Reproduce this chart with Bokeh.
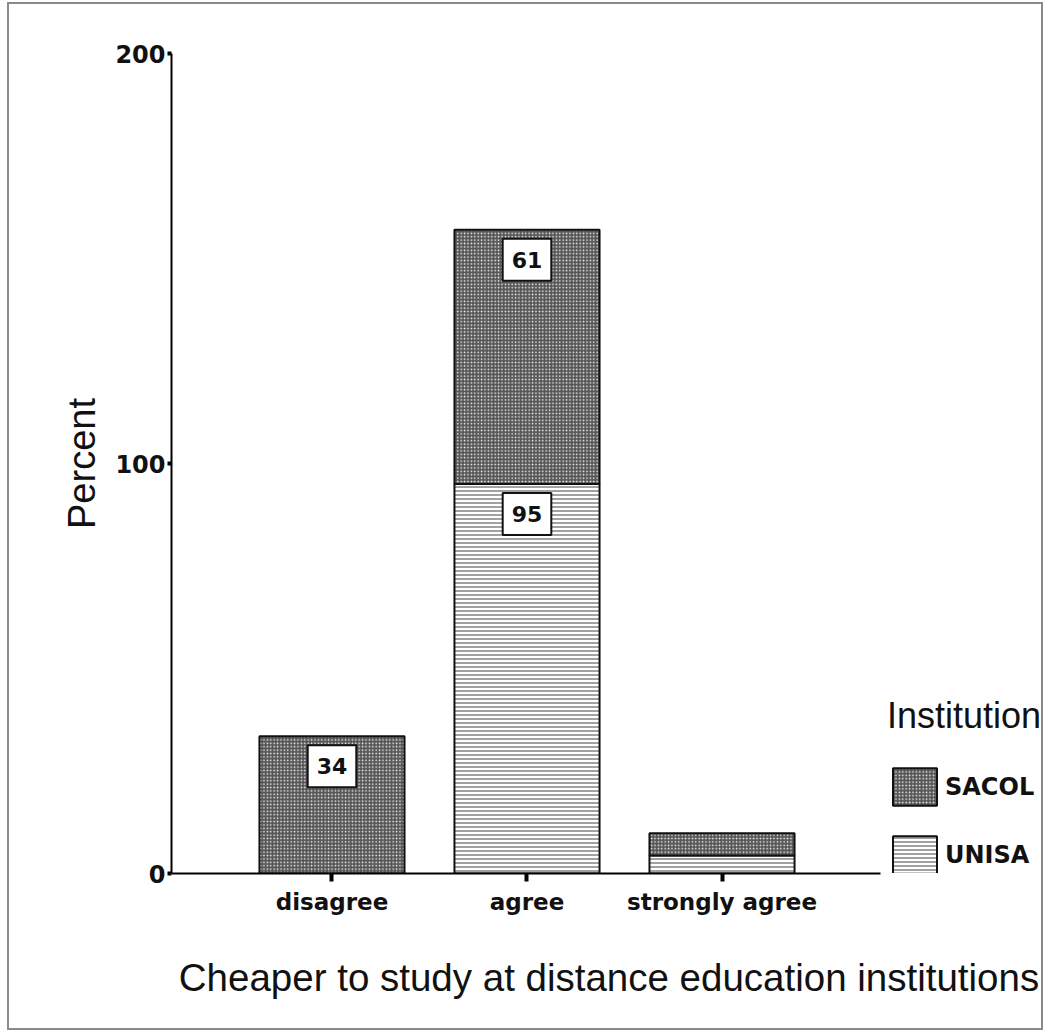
from bokeh.plotting import figure
from bokeh.models import ColumnDataSource, Range1d, FixedTicker, Legend, LegendItem
from bokeh.core.properties import value
from bokeh.embed import file_html
from bokeh.resources import INLINE

# ---- data ----
categories = ["disagree", "agree", "strongly agree"]
unisa = [0, 95, 4.4]
sacol = [33.5, 62, 5.4]
sacol_labels = ["34", "61", ""]
unisa_labels = ["", "95", ""]

xpos = [i + 1 for i in range(len(categories))]
sacol_top = [u + s for u, s in zip(unisa, sacol)]

src = ColumnDataSource(dict(x=xpos, unisa=unisa, sacol=sacol,
                            bottom=[0] * len(xpos), mid=unisa, top=sacol_top))

p = figure(width=1046, height=1031, output_backend="svg", toolbar_location=None,
           x_range=Range1d(0.177, 4.664), y_range=Range1d(0, 200),
           min_border_left=171, min_border_right=0, min_border_top=53,
           min_border_bottom=158)
p.outline_line_color = None
p.xgrid.visible = False
p.ygrid.visible = False
p.background_fill_alpha = 0
p.border_fill_alpha = 0
g = "linear-gradient(#8a8a8a,#8a8a8a)"
p.styles = {"background": (f"{g} 7px 2px / 2px 1027px no-repeat, "
                           f"{g} 7px 2px / 1036px 2px no-repeat, "
                           f"{g} 1041px 2px / 2px 1027px no-repeat, "
                           f"{g} 7px 1028px / 1036px 2px no-repeat, white")}

BW = 0.744
r_unisa = p.vbar(x="x", bottom="bottom", top="mid", width=BW, source=src,
                 fill_color="white", line_color="#111111", line_width=2,
                 hatch_pattern="horizontal_line", hatch_color="#444444",
                 hatch_scale=4, hatch_weight=1)
r_sacol = p.vbar(x="x", bottom="mid", top="top", width=BW, source=src,
                 fill_color="#555555", line_color="#111111", line_width=2,
                 hatch_pattern="dot", hatch_color="#f2f2f2",
                 hatch_scale=3.4, hatch_weight=2.4)

# value boxes
lab_font = "DejaVu Sans"
sacol_src = ColumnDataSource(dict(x=[x for x, t in zip(xpos, sacol_labels) if t],
                                  y=[y for y, t in zip(sacol_top, sacol_labels) if t],
                                  t=[t for t in sacol_labels if t]))
unisa_src = ColumnDataSource(dict(x=[x for x, t in zip(xpos, unisa_labels) if t],
                                  y=[y for y, t in zip(unisa, unisa_labels) if t],
                                  t=[t for t in unisa_labels if t]))
for s in (sacol_src, unisa_src):
    p.text(x="x", y="y", text="t", source=s, y_offset=30,
           text_align="center", text_baseline="middle",
           text_font=value(lab_font), text_font_style="bold", text_font_size="22px",
           text_color="#111111",
           background_fill_color="white", border_line_color="#111111",
           border_line_width=2, padding=(9, 9, 13, 13))

# axes
xa = p.xaxis[0]
xa.ticker = FixedTicker(ticks=xpos)
xa.major_label_overrides = {x: c for x, c in zip(xpos, categories)}
xa.bounds = (0.177, 3.815)
xa.axis_line_width = 2
xa.major_tick_in = 0
xa.major_tick_out = 8
xa.major_tick_line_width = 4
xa.minor_tick_line_color = None
xa.major_label_standoff = 7
xa.major_label_text_font = lab_font
xa.major_label_text_font_style = "bold"
xa.major_label_text_font_size = "23px"
xa.major_label_text_color = "#111111"
xa.axis_label = "Cheaper to study at distance education institutions"
xa.axis_label_text_font = "Liberation Sans"
xa.axis_label_text_font_style = "normal"
xa.axis_label_text_font_size = "38.5px"
xa.axis_label_text_color = "#111111"
xa.axis_label_standoff = 38

ya = p.yaxis[0]
ya.ticker = FixedTicker(ticks=[0, 100, 200])
ya.axis_line_width = 2
ya.major_tick_in = 0
ya.major_tick_out = 4
ya.major_tick_line_width = 4
ya.minor_tick_line_color = None
ya.major_label_standoff = 2
ya.major_label_text_font = lab_font
ya.major_label_text_font_style = "bold"
ya.major_label_text_font_size = "24px"
ya.major_label_text_color = "#111111"
ya.axis_label = "Percent"
ya.axis_label_text_font = "Liberation Sans"
ya.axis_label_text_font_style = "normal"
ya.axis_label_text_font_size = "38px"
ya.axis_label_text_color = "#111111"
ya.axis_label_standoff = 9

legend = Legend(items=[LegendItem(label="SACOL", renderers=[r_sacol]),
                       LegendItem(label="UNISA", renderers=[r_unisa])],
                location=(716, -5), title="Institution",
                title_text_font="Liberation Sans", title_text_font_style="normal",
                title_text_font_size="36px", title_text_color="#111111",
                title_standoff=26,
                label_text_font=lab_font, label_text_font_style="bold",
                label_text_font_size="24px", label_text_color="#111111",
                glyph_width=55, glyph_height=47, label_standoff=3, spacing=21,
                padding=0, margin=0, background_fill_alpha=0, border_line_alpha=0)
p.add_layout(legend)

open("out.html", "w").write(file_html(p, INLINE))
